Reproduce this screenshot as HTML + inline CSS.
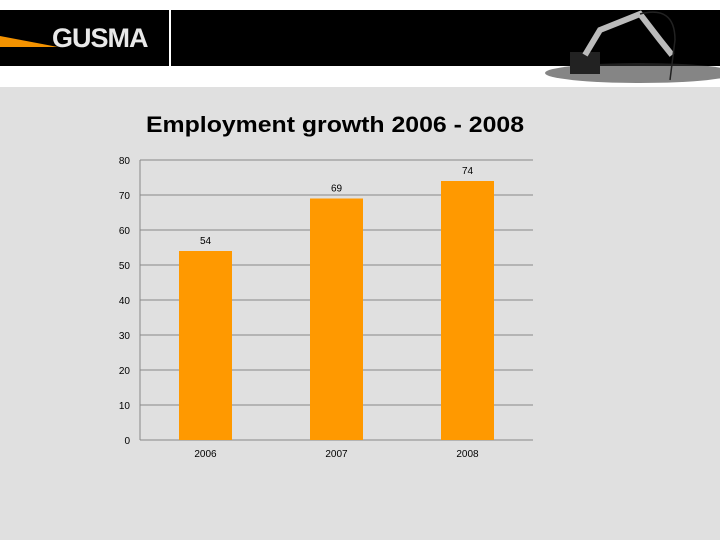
<!DOCTYPE html>
<html><head><meta charset="utf-8"><style>
body{margin:0;width:720px;height:540px;overflow:hidden;background:#e0e0e0;font-family:"Liberation Sans",Arial,sans-serif;position:relative}
#top{position:absolute;left:0;top:0;width:720px;height:87px;background:#fff}
#band{position:absolute;left:0;top:10px;width:720px;height:56px;background:#000}
#div{position:absolute;left:169px;top:10px;width:2px;height:56px;background:#fff}
#logo{position:absolute;left:52px;top:23px;color:#e8e8e8;font-size:27px;font-weight:bold;letter-spacing:-1px}
</style></head><body>
<div id="top"></div>
<div id="band"></div>
<div id="div"></div>
<svg style="position:absolute;left:0;top:0" width="720" height="87">
<polygon points="0,36 0,47 58,47" fill="#f39200"/>
<ellipse cx="640" cy="73" rx="95" ry="10" fill="#333" opacity="0.6"/>
<rect x="570" y="52" width="30" height="22" fill="#222"/>
<path d="M585 55 L600 30 L640 14 L660 40 L672 55" stroke="#bbb" stroke-width="6" fill="none"/>
<path d="M640 14 Q675 5 675 40 L670 80" stroke="#222" stroke-width="1.5" fill="none"/>
</svg>
<div id="logo">GUSMA</div>
<svg id="chart" style="position:absolute;left:0;top:0" width="720" height="540"></svg>
<script>
const categories=["2006","2007","2008"];
const values=[54,69,74];
const ticks=[0,10,20,30,40,50,60,70,80];
const svg=document.getElementById('chart');
const NS='http://www.w3.org/2000/svg';
const L=140,R=533,T=160,B=440,YMAX=80;
const y=v=>B-(v/YMAX)*(B-T);
const cw=(R-L)/categories.length;
const x=i=>L+cw*(i+0.5);
function mk(t,a,txt){const e=document.createElementNS(NS,t);for(const k in a)e.setAttribute(k,a[k]);if(txt!=null)e.textContent=txt;svg.appendChild(e);return e;}
const title=mk('text',{x:146,y:132,'font-size':22,'font-weight':'bold',fill:'#000',textLength:378,lengthAdjust:'spacingAndGlyphs'},'Employment growth 2006 - 2008');


ticks.forEach(t=>{
 const g=mk('line',{x1:L,x2:R,y1:y(t),y2:y(t),stroke:'#888','stroke-width':1});
 
 
 const l=mk('text',{x:130,y:y(t)+4,'text-anchor':'end','font-size':10,fill:'#000'},t);
 
 
});
const ax=mk('line',{x1:L,x2:L,y1:T,y2:B,stroke:'#888','stroke-width':1});


categories.forEach((c,i)=>{
 const bw=53;
 const b=mk('rect',{x:x(i)-bw/2,y:y(values[i]),width:bw,height:B-y(values[i]),fill:'#ff9900'});
 
 
 const v=mk('text',{x:x(i),y:y(values[i])-7,'text-anchor':'middle','font-size':10,fill:'#000'},values[i]);
 
 
 const cl=mk('text',{x:x(i),y:457,'text-anchor':'middle','font-size':10,fill:'#000'},c);
 
 
});
</script>
</body></html>
